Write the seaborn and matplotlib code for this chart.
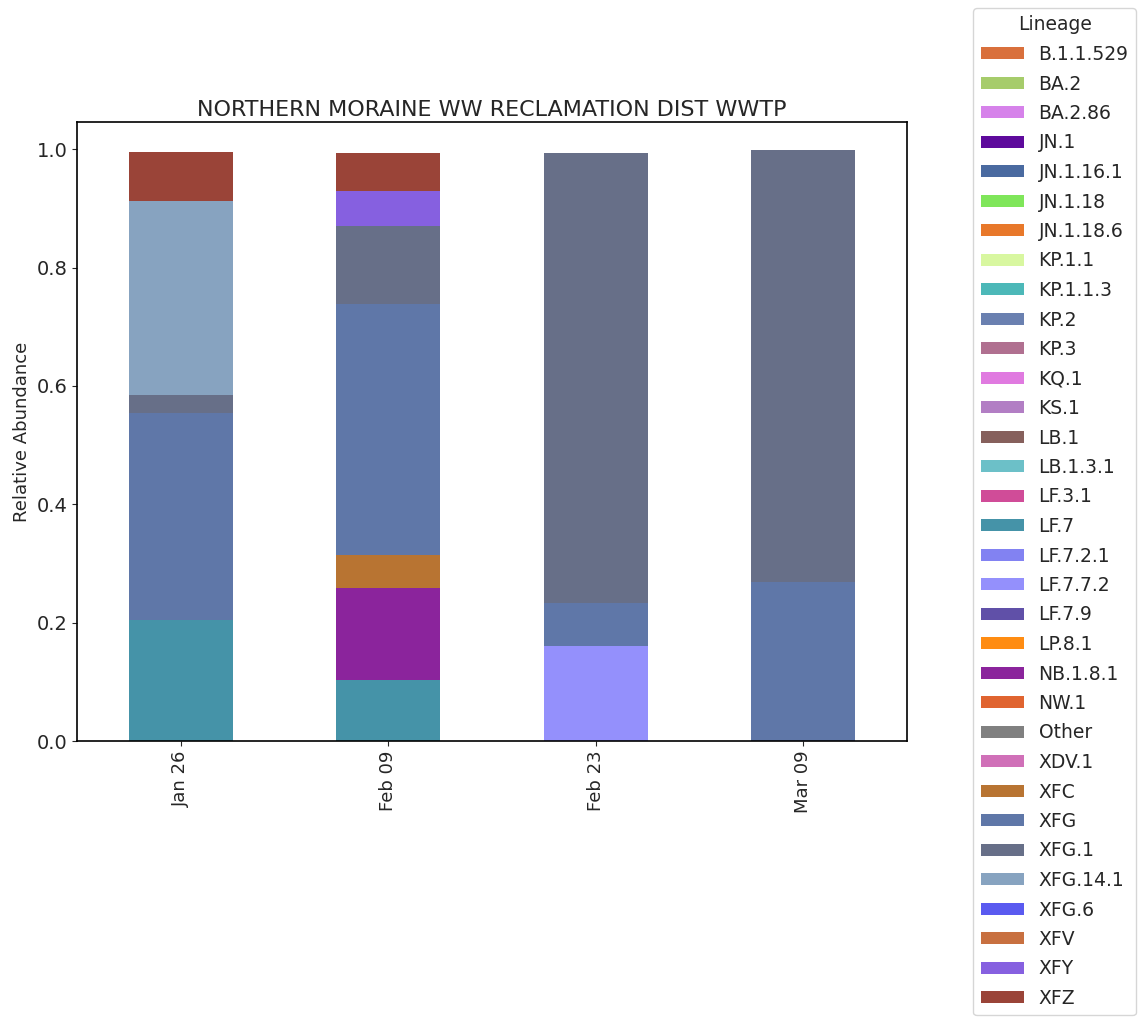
import numpy as np
import pandas as pd
import matplotlib
matplotlib.use("Agg")
import matplotlib.pyplot as plt
import seaborn as sns
from matplotlib.patches import Patch

dates = ["Jan 26", "Feb 09", "Feb 23", "Mar 09"]

lineages = ["B.1.1.529", "BA.2", "BA.2.86", "JN.1", "JN.1.16.1", "JN.1.18", "JN.1.18.6",
            "KP.1.1", "KP.1.1.3", "KP.2", "KP.3", "KQ.1", "KS.1", "LB.1", "LB.1.3.1",
            "LF.3.1", "LF.7", "LF.7.2.1", "LF.7.7.2", "LF.7.9", "LP.8.1", "NB.1.8.1",
            "NW.1", "Other", "XDV.1", "XFC", "XFG", "XFG.1", "XFG.14.1", "XFG.6", "XFV",
            "XFY", "XFZ"]

colors = ["#d9703c", "#a6cc6b", "#d682ea", "#5e0a9c", "#4a6aa0", "#7fe65a", "#e8782a",
          "#d8f7a0", "#4cb8b8", "#6a80b0", "#b07090", "#e07ae0", "#b27ec4", "#86605c",
          "#6cc0c8", "#d04c98", "#4593a8", "#8282f2", "#9490fc", "#6050a8", "#ff8c12",
          "#8b249c", "#e06430", "#808080", "#d070b8", "#b87432", "#5f77a8", "#676f88",
          "#87a3c0", "#5a5af0", "#c87040", "#8660e0", "#9a4438"]

# relative abundance per lineage for each date (lineages not listed are 0)
lf7 = [0.205, 0.103, 0.0, 0.0]
lf772 = [0.0, 0.0, 0.160, 0.0]
nb181 = [0.0, 0.155, 0.0, 0.0]
xfc = [0.0, 0.057, 0.0, 0.0]
xfg = [0.350, 0.423, 0.074, 0.268]
xfg1 = [0.030, 0.133, 0.760, 0.730]
xfg141 = [0.328, 0.0, 0.0, 0.0]
xfy = [0.0, 0.059, 0.0, 0.0]
xfz = [0.082, 0.063, 0.0, 0.0]

values = {name: [0.0] * len(dates) for name in lineages}
values["LF.7"] = lf7
values["LF.7.7.2"] = lf772
values["NB.1.8.1"] = nb181
values["XFC"] = xfc
values["XFG"] = xfg
values["XFG.1"] = xfg1
values["XFG.14.1"] = xfg141
values["XFY"] = xfy
values["XFZ"] = xfz

df = pd.DataFrame(values, index=dates)[lineages]
cum = df.cumsum(axis=1)

sns.set_style("ticks")
plt.rcParams['font.family'] = ['DejaVu Sans']

fig = plt.figure(figsize=(11.42, 10.21), dpi=100)
ax = fig.add_axes([77 / 1142, 1 - 741 / 1021, (907 - 77) / 1142, (741 - 122) / 1021])

# draw cumulative tops from the top layer down so lower layers cover upper ones
for i in reversed(range(len(lineages))):
    name = lineages[i]
    if df[name].sum() <= 0:
        continue
    sns.barplot(x=dates, y=cum[name].values, color=colors[i], width=0.5,
                saturation=1, errorbar=None, ax=ax, linewidth=0)

ax.set_ylim(0, 1.046)
ax.set_xlim(-0.5, 3.5)
ax.set_yticks([0.0, 0.2, 0.4, 0.6, 0.8, 1.0])
ax.set_yticklabels(["0.0", "0.2", "0.4", "0.6", "0.8", "1.0"])
ax.tick_params(axis="y", labelsize=14)
ax.tick_params(axis="x", labelsize=13, labelrotation=90)
ax.set_ylabel("Relative Abundance", fontsize=13)
ax.set_xlabel("")
ax.set_title("NORTHERN MORAINE WW RECLAMATION DIST WWTP", fontsize=16, pad=4)
for s in ax.spines.values():
    s.set_color("black")
    s.set_linewidth(1.2)

handles = [Patch(facecolor=c, edgecolor="none") for c in colors]
fig.legend(handles, lineages, title="Lineage", loc="upper left",
           bbox_to_anchor=(973 / 1142, 1 - 8 / 1021), fontsize=13.5, title_fontsize=13.5,
           labelspacing=0.56, handlelength=2.3, handleheight=0.6, frameon=True,
           borderaxespad=0)

fig.savefig("out.png", dpi=100)
